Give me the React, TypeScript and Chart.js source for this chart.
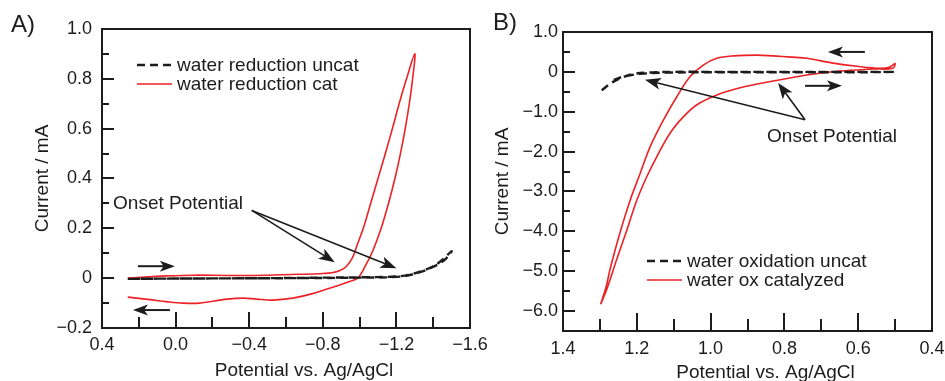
import React, { useEffect, useRef } from 'react';
import { Chart, registerables } from 'chart.js';
Chart.register(...registerables);

const FONT = '"Liberation Sans", Arial, Helvetica, sans-serif';
const RED = '#ec2227';
const BLACK = '#1c1c1c';

// ---------------- Panel A : water reduction ----------------
const aUncatX = [0.26, 0.1, -0.2, -0.5, -0.8, -1.05, -1.2, -1.27, -1.36, -1.43, -1.5, -1.46, -1.39, -1.31, -1.22, -1.0, -0.6, -0.2, 0.1, 0.26];
const aUncatY = [-0.003, -0.002, -0.001, 0.0, 0.002, 0.004, 0.007, 0.014, 0.034, 0.062, 0.108, 0.072, 0.042, 0.02, 0.006, 0.002, 0.0, -0.001, -0.002, -0.003];
const aCatX = [0.26, 0.15, 0.05, -0.1, -0.3, -0.5, -0.7, -0.8, -0.85, -0.89, -0.925, -0.96, -0.99, -1.02, -1.06, -1.1, -1.14, -1.178, -1.215, -1.255, -1.3,
  -1.288, -1.27, -1.248, -1.222, -1.192, -1.157, -1.117, -1.072, -1.032, -0.99, -0.95, -0.854, -0.745, -0.637, -0.528, -0.44, -0.37, -0.28, -0.13, -0.04, 0.05, 0.14, 0.26];
const aCatY = [0.0, 0.005, 0.009, 0.012, 0.011, 0.012, 0.016, 0.019, 0.022, 0.03, 0.045, 0.08, 0.14, 0.2, 0.3, 0.4, 0.5, 0.6, 0.7, 0.8, 0.9,
  0.8, 0.7, 0.6, 0.5, 0.4, 0.3, 0.2, 0.11, 0.05, 0.0, -0.012, -0.036, -0.062, -0.08, -0.088, -0.084, -0.08, -0.084, -0.1, -0.1, -0.094, -0.086, -0.076];
const aXTicks = [0.4, 0.0, -0.4, -0.8, -1.2, -1.6];
const aXTickLabels = ['0.4', '0.0', '\u22120.4', '\u22120.8', '\u22121.2', '\u22121.6'];
const aYTicks = [1.0, 0.8, 0.6, 0.4, 0.2, 0, -0.2];
const aYTickLabels = ['1.0', '0.8', '0.6', '0.4', '0.2', '0', '\u22120.2'];
const aLabels = ['water reduction uncat', 'water reduction cat'];
// annotations (data units)
const aOnsetText = { x: 0.34, y: 0.3 };
const aOnsetFrom = { x: -0.414, y: 0.272 };
const aOnsetTo = [{ x: -0.865, y: 0.064 }, { x: -1.2, y: 0.04 }];
const aScanArrows = [
  { x1: 0.205, y1: 0.048, x2: 0.004, y2: 0.048 },
  { x1: 0.031, y1: -0.128, x2: 0.232, y2: -0.128 },
];

// ---------------- Panel B : water oxidation ----------------
const bUncatX = [1.295, 1.264, 1.218, 1.173, 1.1, 1.0, 0.8, 0.6, 0.5, 0.6, 0.8, 1.0, 1.12, 1.19, 1.24, 1.27];
const bUncatY = [-0.46, -0.25, -0.07, -0.02, 0.0, 0.0, 0.0, 0.0, 0.0, -0.01, -0.01, -0.01, -0.02, -0.05, -0.13, -0.23];
const bCatX = [1.298, 1.282, 1.273, 1.246, 1.218, 1.191, 1.164, 1.128, 1.092, 1.056, 1.02, 0.983, 0.938, 0.875, 0.83, 0.78, 0.739, 0.668, 0.603, 0.541, 0.514, 0.5,
  0.506, 0.56, 0.65, 0.739, 0.83, 0.92, 0.983, 1.038, 1.074, 1.11, 1.146, 1.173, 1.2, 1.227, 1.255, 1.282, 1.298];
const bCatY = [-5.83, -5.35, -4.97, -4.05, -3.22, -2.55, -1.88, -1.21, -0.63, -0.125, 0.17, 0.34, 0.4, 0.42, 0.4, 0.37, 0.34, 0.22, 0.14, 0.09, 0.12, 0.21,
  0.09, 0.07, 0.02, -0.08, -0.23, -0.4, -0.58, -0.83, -1.13, -1.54, -2.13, -2.63, -3.22, -3.97, -4.72, -5.47, -5.83];
const bXTicks = [1.4, 1.2, 1.0, 0.8, 0.6, 0.4];
const bXTickLabels = ['1.4', '1.2', '1.0', '0.8', '0.6', '0.4'];
const bYTicks = [1, 0, -1, -2, -3, -4, -5, -6];
const bYTickLabels = ['1.0', '0', '\u22121.0', '\u22122.0', '\u22123.0', '\u22124.0', '\u22125.0', '\u22126.0'];
const bLabels = ['water oxidation uncat', 'water ox catalyzed'];
const bOnsetText = { x: 0.847, y: -1.62 };
const bOnsetFrom = { x: 0.744, y: -1.2 };
const bOnsetTo = [{ x: 1.178, y: -0.2 }, { x: 0.817, y: -0.28 }];
const bScanArrows = [
  { x1: 0.582, y1: 0.5, x2: 0.682, y2: 0.5 },
  { x1: 0.744, y1: -0.35, x2: 0.644, y2: -0.35 },
];

const zip = (xs: number[], ys: number[]) => xs.map((x, i) => ({ x, y: ys[i] }));

type PanelCfg = {
  id: string;
  left: number; w: number; h: number;
  padTop: number; padRight: number; yWidth: number; xHeight: number;
  xMin: number; xMax: number; yMin: number; yMax: number;
  xTicks: number[]; xTickLabels: string[]; yTicks: number[]; yTickLabels: string[];
  xMinorStep: number; yMinorStep: number;
  xMajorLen: number; xMinorLen: number;
  yTickPad: number; xTickPad: number; yTitlePad: number;
  labels: string[];
  uncat: { x: number; y: number }[]; cat: { x: number; y: number }[];
  legendDx: number; legendDy: number;
  onsetText: { x: number; y: number }; onsetFrom: { x: number; y: number }; onsetTo: { x: number; y: number }[];
  scanArrows: { x1: number; y1: number; x2: number; y2: number }[];
  panelLabel: string; panelLabelX: number; panelLabelY: number;
  xTitleDx: number; xTitleDy: number;
};

function arrowHead(ctx: CanvasRenderingContext2D, x1: number, y1: number, x2: number, y2: number, len: number, half: number) {
  const a = Math.atan2(y2 - y1, x2 - x1);
  const bx = x2 - len * Math.cos(a), by = y2 - len * Math.sin(a);
  const inner = 0.75;
  ctx.beginPath();
  ctx.moveTo(x2, y2);
  ctx.lineTo(bx + half * Math.sin(a), by - half * Math.cos(a));
  ctx.lineTo(x2 - len * inner * Math.cos(a), y2 - len * inner * Math.sin(a));
  ctx.lineTo(bx - half * Math.sin(a), by + half * Math.cos(a));
  ctx.closePath();
  ctx.fill();
}

function makeOverlay(cfg: PanelCfg) {
  return {
    id: 'overlay_' + cfg.id,
    afterDatasetsDraw(chart: any) {
      const { ctx, chartArea: ca, scales } = chart;
      const xs = scales.x, ys = scales.y;
      ctx.save();
      ctx.strokeStyle = BLACK;
      ctx.fillStyle = BLACK;
      // frame
      ctx.lineWidth = 2;
      ctx.strokeRect(ca.left, ca.top, ca.right - ca.left, ca.bottom - ca.top);
      // inward ticks
      ctx.lineWidth = 2;
      ctx.beginPath();
      const xLo = Math.min(cfg.xMin, cfg.xMax), xHi = Math.max(cfg.xMin, cfg.xMax);
      for (let v = xLo; v <= xHi + 1e-9; v += cfg.xMinorStep) {
        const major = cfg.xTicks.some((t) => Math.abs(t - v) < 1e-6);
        const px = Math.round(xs.getPixelForValue(v));
        const len = major ? cfg.xMajorLen : cfg.xMinorLen;
        ctx.moveTo(px, ca.bottom);
        ctx.lineTo(px, ca.bottom - len);
      }
      for (let v = cfg.yMin; v <= cfg.yMax + 1e-9; v += cfg.yMinorStep) {
        const major = cfg.yTicks.some((t) => Math.abs(t - v) < 1e-6);
        const py = Math.round(ys.getPixelForValue(v));
        const len = major ? 12 : 7;
        ctx.moveTo(ca.left, py);
        ctx.lineTo(ca.left + len, py);
      }
      ctx.stroke();

      // legend
      ctx.font = `19px ${FONT}`;
      ctx.textBaseline = 'middle';
      ctx.textAlign = 'left';
      chart.data.datasets.forEach((ds: any, i: number) => {
        const y0 = ca.top + cfg.legendDy + i * 19;
        const x0 = ca.left + cfg.legendDx;
        ctx.save();
        ctx.strokeStyle = ds.borderColor;
        ctx.lineWidth = ds.borderWidth;
        ctx.setLineDash(ds.borderDash || []);
        ctx.beginPath();
        ctx.moveTo(x0, y0);
        ctx.lineTo(x0 + 35, y0);
        ctx.stroke();
        ctx.restore();
        ctx.fillStyle = BLACK;
        ctx.fillText(ds.label, x0 + 40, y0 + 1);
      });

      // onset annotation
      const tx = xs.getPixelForValue(cfg.onsetText.x), ty = ys.getPixelForValue(cfg.onsetText.y);
      ctx.fillText('Onset Potential', tx, ty);
      const fx = xs.getPixelForValue(cfg.onsetFrom.x), fy = ys.getPixelForValue(cfg.onsetFrom.y);
      ctx.lineWidth = 1.6;
      cfg.onsetTo.forEach((p) => {
        const ex = xs.getPixelForValue(p.x), ey = ys.getPixelForValue(p.y);
        const a = Math.atan2(ey - fy, ex - fx);
        ctx.beginPath();
        ctx.moveTo(fx, fy);
        ctx.lineTo(ex - 10 * Math.cos(a), ey - 10 * Math.sin(a));
        ctx.stroke();
        arrowHead(ctx, fx, fy, ex, ey, 16, 6);
      });
      // scan direction arrows
      ctx.lineWidth = 2;
      cfg.scanArrows.forEach((s) => {
        const x1 = xs.getPixelForValue(s.x1), y1 = ys.getPixelForValue(s.y1);
        const x2 = xs.getPixelForValue(s.x2), y2 = ys.getPixelForValue(s.y2);
        const a = Math.atan2(y2 - y1, x2 - x1);
        ctx.beginPath();
        ctx.moveTo(x1, y1);
        ctx.lineTo(x2 - 8 * Math.cos(a), y2 - 8 * Math.sin(a));
        ctx.stroke();
        arrowHead(ctx, x1, y1, x2, y2, 15, 5.5);
      });

      // x title
      ctx.font = `19px ${FONT}`;
      ctx.textAlign = 'center';
      ctx.textBaseline = 'middle';
      ctx.fillText('Potential vs. Ag/AgCl', (ca.left + ca.right) / 2 + cfg.xTitleDx, ca.bottom + cfg.xTitleDy);

      // panel label
      ctx.font = `24px ${FONT}`;
      ctx.textAlign = 'left';
      ctx.fillText(cfg.panelLabel, cfg.panelLabelX, cfg.panelLabelY);
      ctx.restore();
    },
  };
}

function buildConfig(cfg: PanelCfg): any {
  return {
    type: 'line',
    data: {
      datasets: [
        {
          label: cfg.labels[0], data: cfg.uncat, borderColor: BLACK, borderWidth: 2.4, borderDash: [8, 5],
          pointRadius: 0, tension: 0.35, fill: false, order: 1,
        },
        {
          label: cfg.labels[1], data: cfg.cat, borderColor: RED, borderWidth: 1.6,
          pointRadius: 0, tension: 0.35, fill: false, order: 2,
        },
      ],
    },
    options: {
      responsive: false,
      animation: false,
      devicePixelRatio: 1,
      events: [],
      layout: { padding: { left: 0, top: cfg.padTop, right: cfg.padRight, bottom: 0 } },
      plugins: { legend: { display: false }, tooltip: { enabled: false } },
      scales: {
        x: {
          type: 'linear', reverse: true, min: Math.min(cfg.xMin, cfg.xMax), max: Math.max(cfg.xMin, cfg.xMax),
          afterBuildTicks: (s: any) => { s.ticks = cfg.xTicks.map((v) => ({ value: v })); },
          afterFit: (s: any) => { s.height = cfg.xHeight; s.paddingLeft = 0; s.paddingRight = 0; s.paddingTop = 0; s.paddingBottom = 0; },
          grid: { display: false, drawTicks: false, tickLength: 0 },
          border: { display: false },
          ticks: {
            autoSkip: false, maxRotation: 0, padding: cfg.xTickPad, color: BLACK,
            font: { family: FONT, size: 18 },
            callback: (_v: any, i: number) => cfg.xTickLabels[i],
          },
        },
        y: {
          type: 'linear', min: cfg.yMin, max: cfg.yMax,
          afterBuildTicks: (s: any) => { s.ticks = cfg.yTicks.map((v) => ({ value: v })); },
          afterFit: (s: any) => { s.width = cfg.yWidth; s.paddingLeft = 0; s.paddingRight = 0; s.paddingTop = 0; s.paddingBottom = 0; },
          grid: { display: false, drawTicks: false, tickLength: 0 },
          border: { display: false },
          ticks: {
            autoSkip: false, padding: cfg.yTickPad, color: BLACK,
            font: { family: FONT, size: 18 },
            callback: (_v: any, i: number) => cfg.yTickLabels[i],
          },
          title: {
            display: true, text: 'Current / mA', color: BLACK,
            font: { family: FONT, size: 19 }, padding: { top: cfg.yTitlePad, bottom: 0 },
          },
        },
      },
    },
    plugins: [makeOverlay(cfg)],
  };
}

const panelA: PanelCfg = {
  id: 'A', left: 0, w: 495, h: 400,
  padTop: 29, padRight: 25, yWidth: 102, xHeight: 72,
  xMin: 0.4, xMax: -1.6, yMin: -0.2, yMax: 1.0,
  xTicks: aXTicks, xTickLabels: aXTickLabels, yTicks: aYTicks, yTickLabels: aYTickLabels,
  xMinorStep: 0.2, yMinorStep: 0.1, xMajorLen: 16, xMinorLen: 11,
  yTickPad: 10, xTickPad: 6, yTitlePad: 31.6,
  labels: aLabels,
  uncat: zip(aUncatX, aUncatY), cat: zip(aCatX, aCatY),
  legendDx: 35, legendDy: 36,
  onsetText: aOnsetText, onsetFrom: aOnsetFrom, onsetTo: aOnsetTo, scanArrows: aScanArrows,
  panelLabel: 'A)', panelLabelX: 11, panelLabelY: 25,
  xTitleDx: 18, xTitleDy: 43,
};

const panelB: PanelCfg = {
  id: 'B', left: 475, w: 470, h: 400,
  padTop: 32, padRight: 13, yWidth: 88, xHeight: 69,
  xMin: 1.4, xMax: 0.4, yMin: -6.5, yMax: 1.0,
  xTicks: bXTicks, xTickLabels: bXTickLabels, yTicks: bYTicks, yTickLabels: bYTickLabels,
  xMinorStep: 0.1, yMinorStep: 0.5, xMajorLen: 18, xMinorLen: 12,
  yTickPad: 5, xTickPad: 7, yTitlePad: 16.6,
  labels: bLabels,
  uncat: zip(bUncatX, bUncatY), cat: zip(bCatX, bCatY),
  legendDx: 84, legendDy: 229,
  onsetText: bOnsetText, onsetFrom: bOnsetFrom, onsetTo: bOnsetTo, scanArrows: bScanArrows,
  panelLabel: 'B)', panelLabelX: 18, panelLabelY: 23,
  xTitleDx: 18, xTitleDy: 42,
};

function Panel({ cfg }: { cfg: PanelCfg }) {
  const ref = useRef<HTMLCanvasElement>(null);
  useEffect(() => {
    const chart = new Chart(ref.current as HTMLCanvasElement, buildConfig(cfg));
    return () => chart.destroy();
  }, [cfg]);
  return (
    <canvas
      ref={ref}
      width={cfg.w}
      height={cfg.h}
      style={{ position: 'absolute', left: cfg.left, top: 0, width: cfg.w, height: cfg.h }}
    />
  );
}

export default function App() {
  return (
    <div style={{ position: 'absolute', left: 0, top: 0, width: 945, height: 381, overflow: 'hidden', background: '#fff' }}>
      <Panel cfg={panelA} />
      <Panel cfg={panelB} />
    </div>
  );
}
